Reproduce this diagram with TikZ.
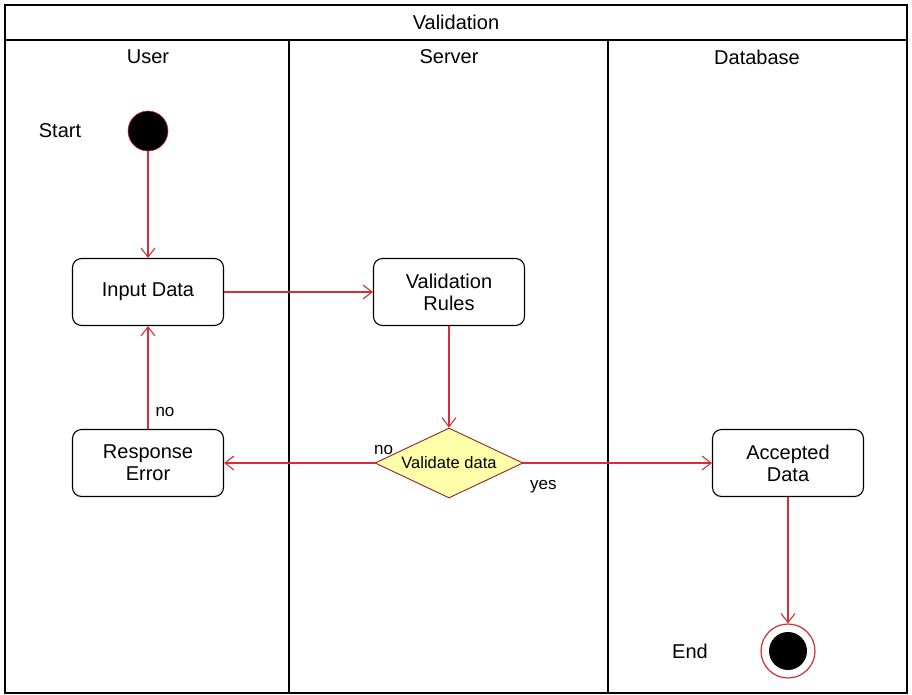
\documentclass[tikz,border=0pt]{standalone}
\usepackage{fontspec}
\setmainfont{Liberation Sans}
\usetikzlibrary{arrows.meta,shapes.geometric}
\definecolor{lred}{RGB}{215,45,55}
\definecolor{dfill}{RGB}{255,255,170}
\begin{document}
\begin{tikzpicture}[x=1pt,y=-1pt,
  font=\fontsize{20}{22}\selectfont,
  act/.style={draw=black,line width=1.1pt,rounded corners=9pt,fill=white,minimum width=151pt,minimum height=67pt,align=center,inner sep=2pt},
  flow/.style={draw=lred,line width=1.1pt,-{Straight Barb[length=9pt,width=14pt]}},
  lbl/.style={font=\fontsize{17}{19}\selectfont,inner sep=0pt},
  lane/.style={draw=black,line width=1.4pt}]
\useasboundingbox (0,0) rectangle (912,694);
% frame
\draw[lane] (5,5) rectangle (907,693);
\draw[lane] (5,40) -- (907,40);
\draw[lane] (289,40) -- (289,693);
\draw[lane] (608,40) -- (608,693);
\node (title) at (456,22) {Validation};
\node (lu) at (148,57) {User};
\node (ls) at (449,57) {Server};
\node (ld) at (757,57) {Database};
% nodes
\node[circle,fill=black,draw=lred,line width=0.6pt,minimum size=40pt,inner sep=0pt] (start) at (148,131) {};
\node (startl) at (60,131) {Start};
\node[act] (input) at (148,292) {Input Data};
\node[act] (rules) at (449,292) {Validation\\Rules};
\node[diamond,draw=lred!70!black,fill=dfill,line width=0.9pt,minimum width=148pt,minimum height=70pt,aspect=2.1,inner sep=0pt,font=\fontsize{16.5}{18}\selectfont] (dec) at (449,463) {Validate data};
\node[act] (resp) at (148,463) {Response\\Error};
\node[act] (acc) at (788,463) {Accepted\\Data};
\node[circle,draw=lred,line width=1.2pt,fill=white,minimum size=54pt,inner sep=0pt] (endo) at (788,651) {};
\node[circle,fill=black,minimum size=38pt,inner sep=0pt] (endi) at (endo.center) {};
\node (endl) at (690,651) {End};
% edges
\draw[flow] (start) -- (input);
\draw[flow] (input) -- (rules);
\draw[flow] (rules) -- (dec);
\draw[flow] (dec) -- node[lbl,at start,xshift=9pt,yshift=13pt] (no1) {no} (resp);
\draw[flow] (dec) -- node[lbl,at start,xshift=20pt,yshift=-24pt] (yes1) {yes} (acc);
\draw[flow] (resp) -- node[lbl,at start,xshift=17pt,yshift=17pt] (no2) {no} (input);
\draw[flow] (acc) -- (endo);
\end{tikzpicture}
\end{document}
